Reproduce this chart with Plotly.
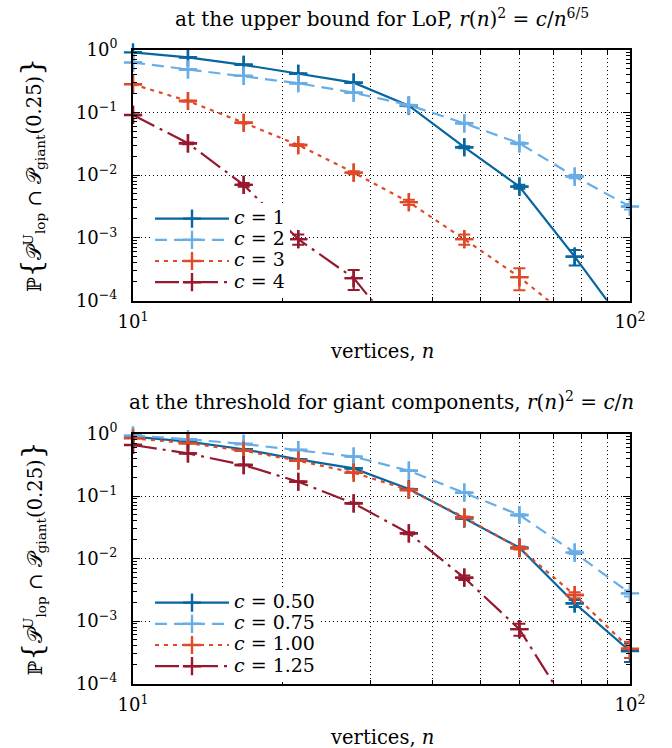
import plotly.graph_objects as go

# ---------------- data ----------------
n_vals = [10, 12.9, 16.7, 21.5, 27.8, 35.9, 46.4, 59.9, 77.4, 100]

# top panel: upper bound for LoP, r(n)^2 = c / n^(6/5)
top_c_labels = ["1", "2", "3", "4"]
top_p_c1 = [0.90, 0.75, 0.57, 0.41, 0.296, 0.127, 0.0277, 0.00653, 5.0e-4, 3.2e-5]
top_e_c1 = [0.0017, 0.0025, 0.0029, 0.0028, 0.0026, 0.0019, 0.00095, 0.00047, 0.00014, 3.3e-5]
top_p_c2 = [0.62, 0.48, 0.38, 0.29, 0.205, 0.13, 0.0667, 0.032, 0.00944, 0.00314]
top_e_c2 = [0.0028, 0.0029, 0.0028, 0.0026, 0.0023, 0.0019, 0.0014, 0.0010, 0.00056, 0.00032]
top_p_c3 = [0.279, 0.151, 0.068, 0.030, 0.0109, 0.00369, 9.5e-4, 2.36e-4, 4.6e-5, None]
top_e_c3 = [0.0026, 0.0021, 0.0015, 0.0010, 0.0006, 0.00035, 0.00018, 9.0e-5, 3.9e-5, None]
top_p_c4 = [0.0906, 0.032, 0.00695, 9.5e-4, 2.27e-4, 1.9e-5, None, None, None, None]
top_e_c4 = [0.0017, 0.0010, 0.00048, 0.00018, 8.0e-5, 2.5e-5, None, None, None, None]

# bottom panel: threshold for giant components, r(n)^2 = c / n
bot_c_labels = ["0.50", "0.75", "1.00", "1.25"]
bot_p_c050 = [0.89, 0.74, 0.56, 0.386, 0.277, 0.129, 0.044, 0.0149, 0.00192, 3.3e-4]
bot_e_c050 = [0.0018, 0.0025, 0.0029, 0.0028, 0.0026, 0.0019, 0.0012, 0.0007, 0.00025, 0.00011]
bot_p_c075 = [0.93, 0.81, 0.68, 0.545, 0.426, 0.254, 0.113, 0.0497, 0.0124, 0.00277]
bot_e_c075 = [0.0015, 0.0023, 0.0027, 0.0029, 0.0029, 0.0025, 0.0018, 0.0013, 0.00064, 0.0003]
bot_p_c100 = [0.84, 0.70, 0.53, 0.367, 0.236, 0.125, 0.0456, 0.0146, 0.0026, 3.6e-4]
bot_e_c100 = [0.0021, 0.0026, 0.0029, 0.0028, 0.0025, 0.0019, 0.0012, 0.0007, 0.00029, 0.000105]
bot_p_c125 = [0.655, 0.48, 0.313, 0.169, 0.0764, 0.0253, 0.00493, 7.4e-4, 2.9e-5, None]
bot_e_c125 = [0.0027, 0.0029, 0.0027, 0.0022, 0.0015, 0.0009, 0.0004, 0.00016, 3.1e-5, None]

x_tick_vals = [10, 100]
x_tick_text = ["10<sup>1</sup>", "10<sup>2</sup>"]
y_tick_vals = [1e-4, 1e-3, 1e-2, 1e-1, 1]
y_tick_text = ["10<sup>−4</sup>", "10<sup>−3</sup>", "10<sup>−2</sup>", "10<sup>−1</sup>", "10<sup>0</sup>"]

top_title = "at the upper bound for LoP, <i>r</i>(<i>n</i>)<sup>2</sup> = <i>c</i>/<i>n</i><sup>6/5</sup>"
bot_title = "at the threshold for giant components, <i>r</i>(<i>n</i>)<sup>2</sup> = <i>c</i>/<i>n</i>"
x_title = "vertices, <i>n</i>"
y_title = ('ℙ<span style="font-size:28px">{</span>𝒫<sup>U</sup><sub>lop</sub> ∩ '
           '𝒫<sub>giant</sub>(0.25)<span style="font-size:28px">}</span>')

# ---------------- styles ----------------
COLORS = ["#07659f", "#68ade6", "#de4a28", "#961a2f"]
DASHES = ["solid", "12px,7px", "4px,5px", "24px,6px,3px,6px"]
FONT = "DejaVu Serif, Liberation Serif, serif"
W, H = 672, 748
X0, X1 = 133, 630
TOP_Y0, TOP_Y1 = 49.5, 300.5
BOT_Y0, BOT_Y1 = 433.5, 683.5

fig = go.Figure()

def add_series(x, p, e, name, color, dash, xa, ya, legend):
    # line (+ markers for legend), clipped to the axes
    fig.add_trace(go.Scatter(
        x=x, y=p, mode="lines+markers", name=name, xaxis=xa, yaxis=ya,
        line=dict(color=color, width=2.2, dash=dash),
        marker=dict(symbol="cross-thin", size=13, line=dict(color=color, width=2.4)),
        legend=legend, connectgaps=False))
    # markers + error bars for points that fall inside the axes
    xs, ps, es = [], [], []
    for xi, pi, ei in zip(x, p, e):
        if pi is not None and pi >= 1e-4:
            xs.append(xi); ps.append(pi); es.append(ei)
    fig.add_trace(go.Scatter(
        x=xs, y=ps, mode="markers", xaxis=xa, yaxis=ya, showlegend=False,
        cliponaxis=False, hoverinfo="skip",
        marker=dict(symbol="cross-thin", size=13, line=dict(color=color, width=2.4)),
        error_y=dict(type="data", array=es, visible=True, color=color,
                     thickness=2, width=6)))

top_p = [top_p_c1, top_p_c2, top_p_c3, top_p_c4]
top_e = [top_e_c1, top_e_c2, top_e_c3, top_e_c4]
bot_p = [bot_p_c050, bot_p_c075, bot_p_c100, bot_p_c125]
bot_e = [bot_e_c050, bot_e_c075, bot_e_c100, bot_e_c125]

def legend_name(lbl):
    return '<span style="font-size:19px"><i>c</i> = %s</span>' % lbl

for i in range(4):
    add_series(n_vals, top_p[i], top_e[i], legend_name(top_c_labels[i]),
               COLORS[i], DASHES[i], "x", "y", "legend")
for i in range(4):
    add_series(n_vals, bot_p[i], bot_e[i], legend_name(bot_c_labels[i]),
               COLORS[i], DASHES[i], "x2", "y2", "legend2")

y_minor = [m * 10.0 ** k for k in range(-4, 0) for m in range(2, 10)]
x_minor = [m * 10 for m in range(2, 10)]

def xaxis_cfg(anchor):
    return dict(type="log", range=[1, 2], domain=[X0 / W, X1 / W], anchor=anchor,
                tickvals=x_tick_vals, ticktext=x_tick_text, ticks="inside",
                ticklen=7, tickwidth=1.2, tickcolor="black", automargin=False,
                showline=True, linecolor="black", linewidth=2, mirror="allticks",
                showgrid=False, zeroline=False, ticklabelstandoff=4,
                tickfont=dict(family=FONT, size=18, color="black"),
                minor=dict(tickvals=x_minor, ticks="inside", ticklen=4, tickwidth=1,
                           tickcolor="black", showgrid=True, gridcolor="black",
                           griddash="1px,3px", gridwidth=1))

def yaxis_cfg(anchor, y0, y1):
    return dict(type="log", range=[-4, 0], domain=[1 - y1 / H, 1 - y0 / H], anchor=anchor,
                tickvals=y_tick_vals, ticktext=y_tick_text, ticks="inside",
                ticklen=7, tickwidth=1.2, tickcolor="black", automargin=False,
                showline=True, linecolor="black", linewidth=2, mirror="allticks",
                showgrid=True, gridcolor="black", griddash="1px,3px", gridwidth=1,
                zeroline=False, ticklabelstandoff=10,
                tickfont=dict(family=FONT, size=18, color="black"),
                minor=dict(tickvals=y_minor, ticks="inside", ticklen=4, tickwidth=1,
                           tickcolor="black", showgrid=False))

annotations = []
def ann(text, x, y, angle=0, size=19.5):
    annotations.append(dict(text=text, x=x, y=y, xref="paper", yref="paper",
                            xanchor="center", yanchor="middle", showarrow=False,
                            textangle=angle, font=dict(family=FONT, size=size, color="black")))

cx = (X0 + X1) / 2 / W
ann(top_title, cx, 1 - 18 / H, size=20)
ann(x_title, cx, 1 - 351 / H)
ann(bot_title, cx, 1 - 401 / H, size=20)
ann(x_title, cx, 1 - 737 / H)
ann(y_title, 32 / W, 1 - (TOP_Y0 + TOP_Y1) / 2 / H, angle=-90)
ann(y_title, 32 / W, 1 - (BOT_Y0 + BOT_Y1) / 2 / H, angle=-90)

leg_common = dict(xanchor="left", yanchor="top", bgcolor="white", borderwidth=0,
                  font=dict(family=FONT, size=14, color="black"),
                  itemwidth=74, tracegroupgap=0)

fig.update_layout(
    width=W, height=H, margin=dict(l=0, r=0, t=0, b=0, autoexpand=False),
    paper_bgcolor="white", plot_bgcolor="white",
    font=dict(family=FONT, size=19, color="black"),
    xaxis=xaxis_cfg("y"), yaxis=yaxis_cfg("x", TOP_Y0, TOP_Y1),
    xaxis2=xaxis_cfg("y2"), yaxis2=yaxis_cfg("x2", BOT_Y0, BOT_Y1),
    legend=dict(x=150 / W, y=1 - 203 / H, **leg_common),
    legend2=dict(x=150 / W, y=1 - 587 / H, **leg_common),
    annotations=annotations,
)

fig.write_html("out.html", config={"displayModeBar": False},
               post_script="document.body.style.margin='0';")
